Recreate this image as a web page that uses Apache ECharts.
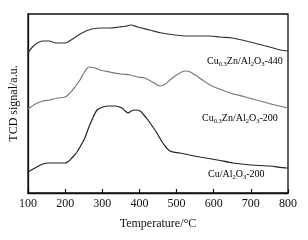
<!DOCTYPE html>
<html><head><meta charset="utf-8">
<script src="https://cdn.jsdelivr.net/npm/echarts@6/dist/echarts.min.js"></script>
<style>html,body{margin:0;padding:0;background:#fff}#c{width:308px;height:240px}</style>
</head><body><div id="c"></div>
<script>
var xTicks = [100,200,300,400,500,600,700,800];
var seriesNames = ['Cu0.3Zn/Al2O3-440','Cu0.3Zn/Al2O3-200','Cu/Al2O3-200'];
var s440 = [[100,140],[112,146],[125,150],[140,152],[157,152],[175,150],[200,150],[220,154],[245,160],[272,164],[300,165],[321,165],[345,166],[365,167],[377,168],[395,166],[428,163],[460,160],[496,158],[530,157],[563,157],[590,157],[617,156],[650,155],[698,151],[740,147],[779,143],[800,142]];
var s200 = [[100,84],[120,89],[140,92],[159,93],[180,95],[200,96],[220,103],[240,113],[252,121],[264,126],[280,125],[294,123],[320,121],[350,119],[375,118],[395,116],[415,115],[435,111],[455,107],[470,109],[482,113],[500,118],[523,122],[537,121],[550,118],[570,113],[590,108],[615,104],[644,100],[685,96],[725,92],[765,88],[800,85]];
var sCu = [[100,21],[119,25],[140,29],[155,30],[173,30],[200,30],[210,32],[218,35],[230,40],[240,46],[253,55],[262,64],[272,73],[286,83],[302,86],[318,87],[334,87],[353,85],[362,82],[369,80],[378,82],[388,83],[402,82],[412,78],[423,73],[447,60],[463,50],[482,42],[509,40],[535,38],[563,36],[610,33],[652,30],[700,28],[750,27],[797,25],[800,25]];

var chart = echarts.init(document.getElementById('c'));
var serif = 'Liberation Serif';
var rich = {
  n:{fontFamily:serif,fontSize:10,color:'#111'},
  s:{fontFamily:serif,fontSize:6.5,color:'#111',verticalAlign:'bottom',padding:[6,0,0,0]}
};
function mk(name){
  if(name.indexOf('Cu0.3')===0){
    return '{n|Cu}{s|0.3}{n|Zn/Al}{s|2}{n|O}{s|3}{n|'+name.split('O3')[1]+'}';
  }
  return '{n|Cu/Al}{s|2}{n|O}{s|3}{n|'+name.split('O3')[1]+'}';
}
chart.setOption({
  animation:false,
  grid:{left:28,right:20,top:14,bottom:47,show:true,borderColor:'#111',borderWidth:1.3,backgroundColor:'transparent'},
  xAxis:{type:'value',min:100,max:800,interval:100,
    axisLine:{show:true,lineStyle:{color:'#111',width:1.3}},
    axisTick:{show:true,inside:true,length:4,lineStyle:{color:'#111',width:1.2}},
    splitLine:{show:false},
    axisLabel:{fontFamily:serif,fontSize:12,color:'#111',margin:5,formatter:function(v){return xTicks.indexOf(v)>=0?String(v):'';}},
    name:'Temperature/°C',nameLocation:'middle',nameGap:25,
    nameTextStyle:{fontFamily:serif,fontSize:12,color:'#111'}},
  yAxis:{type:'value',min:0,max:179,
    axisLine:{show:true,lineStyle:{color:'#111',width:1.3}},
    axisTick:{show:false},axisLabel:{show:false},splitLine:{show:false},
    name:'TCD signal/a.u.',nameLocation:'middle',nameGap:8,
    nameTextStyle:{fontFamily:serif,fontSize:12,color:'#111'}},
  series:[
    {name:seriesNames[0],type:'line',data:s440,showSymbol:false,smooth:0.3,lineStyle:{color:'#333',width:1.2}},
    {name:seriesNames[1],type:'line',data:s200,showSymbol:false,smooth:0.3,lineStyle:{color:'#777',width:1.2}},
    {name:seriesNames[2],type:'line',data:sCu,showSymbol:false,smooth:0.3,lineStyle:{color:'#222',width:1.2}}
  ],
  graphic:[
    {type:'text',left:207,top:56,style:{text:mk(seriesNames[0]),rich:rich}},
    {type:'text',left:202,top:113,style:{text:mk(seriesNames[1]),rich:rich}},
    {type:'text',left:208,top:169,style:{text:mk(seriesNames[2]),rich:rich}}
  ]
});
</script></body></html>
